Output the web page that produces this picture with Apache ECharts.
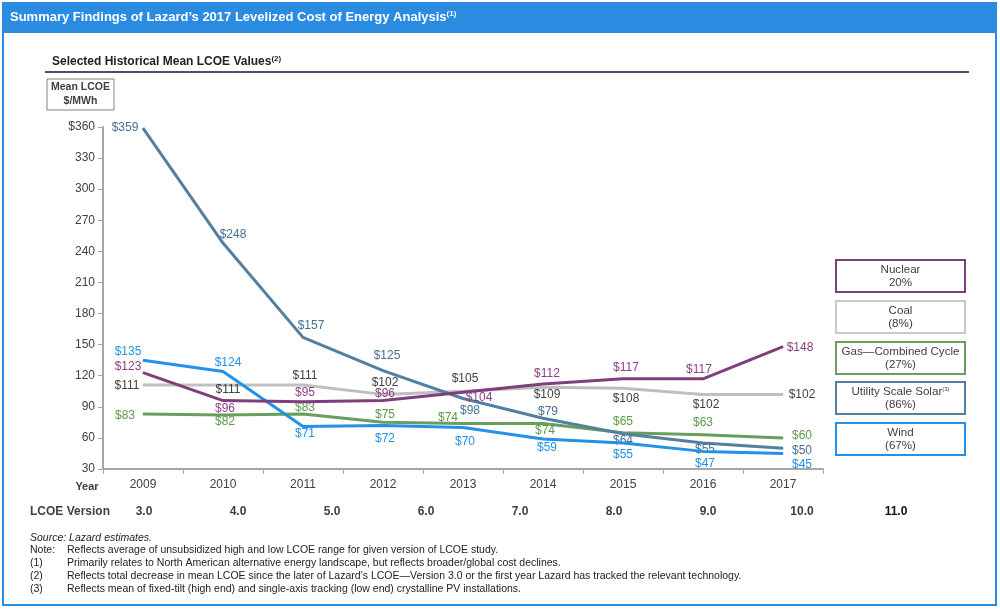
<!DOCTYPE html>
<html><head><meta charset="utf-8">
<script src="https://cdn.jsdelivr.net/npm/echarts@6/dist/echarts.min.js"></script>
<style>html,body{margin:0;padding:0;background:#fff}#c{width:1000px;height:609px}</style>
</head><body><div id="c"></div>
<script>
const years = ['2009','2010','2011','2012','2013','2014','2015','2016','2017'];
const versions = ['3.0','4.0','5.0','6.0','7.0','8.0','9.0','10.0','11.0'];
const yTicks = [30, 60, 90, 120, 150, 180, 210, 240, 270, 300, 330, 360];
const solar   = [359, 248, 157, 125, 98, 79, 64, 55, 50];
const wind    = [135, 124, 71, 72, 70, 59, 55, 47, 45];
const nuclear = [123, 96, 95, 96, 104, 112, 117, 117, 148];
const coal    = [111, 111, 111, 102, 105, 109, 108, 102, 102];
const gas     = [83, 82, 83, 75, 74, 74, 65, 63, 60];
const legendNames = ['Nuclear', 'Coal', 'Gas\u2014Combined Cycle', 'Utility Scale Solar', 'Wind'];
const legendChanges = ['20%', '(8%)', '(27%)', '(86%)', '(67%)'];

// label placement (styling, not data)
const solarOff   = [[-18,0],[10,-8],[8,-12],[4,-15],[7,12],[5,-7],[0,7],[2,7],[19,2]];
const windOff    = [[-15,-8],[5,-9],[2,7],[2,13],[2,14],[4,9],[0,12],[2,12],[19,11]];
const nuclearOff = [[-15,-6],[2,8],[2,-9],[2,-7],[16,5],[4,-10],[3,-11],[-4,-9],[17,1]];
const coalOff    = [[-16,1],[5,5],[2,-9],[2,-12],[2,-13],[4,8],[3,11],[3,10],[19,0]];
const gasOff     = [[-18,2],[2,7],[2,-6],[2,-8],[-15,-6],[2,7],[0,-11],[0,-12],[19,-2]];

const FONT = '"Liberation Sans", Arial, sans-serif';
const NARROW = '"Liberation Sans Narrow", "Liberation Sans", Arial, sans-serif';

function mk(name, vals, offs, lineColor, labelColor, z) {
  return {
    name, type: 'line', data: vals.map((v, i) => ({
      value: v,
      label: { offset: offs[i] }
    })),
    xAxisIndex: 0, yAxisIndex: 0, z: z,
    symbol: 'circle', symbolSize: 1, showSymbol: true,
    itemStyle: { color: lineColor },
    lineStyle: { color: lineColor, width: 3 },
    label: {
      show: true, position: 'inside', align: 'center', verticalAlign: 'middle',
      color: labelColor, fontSize: 12, fontFamily: FONT,
      formatter: p => '$' + p.value
    },
    animation: false
  };
}

const chart = echarts.init(document.getElementById('c'), null, { renderer: 'canvas' });

const boxTop = [260, 301, 342, 382, 423];
const boxColors = ['#7E3F7C', '#C8C8C8', '#6A9E5D', '#52809E', '#2490E8'];
const NOTE = { fontSize: 10.5, fill: '#222', fontFamily: FONT };
const graphics = [
  { type: 'rect', shape: { x: 3, y: 3, width: 993, height: 602 }, style: { fill: 'none', stroke: '#2A8BE0', lineWidth: 2 } },
  { type: 'rect', shape: { x: 3, y: 3, width: 993, height: 30 }, style: { fill: '#2A8BE0' } },
  { type: 'text', left: 10, top: 10, style: {
      text: '{a|Summary Findings of Lazard\u2019s 2017 Levelized Cost of Energy Analysis}{s|(1)}',
      rich: { a: { fontSize: 13, fontWeight: 'bold', fill: '#fff', fontFamily: FONT },
              s: { fontSize: 8, fontWeight: 'bold', fill: '#fff', fontFamily: FONT, padding: [0, 0, 6, 0] } } } },
  { type: 'text', left: 52, top: 55, style: {
      text: '{a|Selected Historical Mean LCOE Values}{s|(2)}',
      rich: { a: { fontSize: 12, fontWeight: 'bold', fill: '#222', fontFamily: FONT },
              s: { fontSize: 8, fontWeight: 'bold', fill: '#222', fontFamily: FONT, padding: [0, 0, 5, 0] } } } },
  { type: 'line', shape: { x1: 45, y1: 72, x2: 969, y2: 72 }, style: { stroke: '#4A5068', lineWidth: 2 } },
  { type: 'rect', shape: { x: 47, y: 79, width: 67, height: 31 }, style: { fill: '#fff', stroke: '#808080', lineWidth: 1 } },
  { type: 'text', x: 80.5, y: 94.5, style: { text: 'Mean LCOE\n$/MWh', align: 'center', verticalAlign: 'middle', fontSize: 10.5, fontWeight: 'bold', fill: '#404040', fontFamily: FONT, lineHeight: 14 } },
  { type: 'text', x: 87, y: 487, style: { text: 'Year', align: 'center', verticalAlign: 'middle', fontSize: 11, fontWeight: 'bold', fill: '#404040', fontFamily: NARROW } },
  { type: 'text', x: 30, y: 512, style: { text: 'LCOE Version', align: 'left', verticalAlign: 'middle', fontSize: 12, fontWeight: 'bold', fill: '#404040', fontFamily: FONT } },
  { type: 'text', left: 30, top: 533, style: Object.assign({ text: 'Source: Lazard estimates.', fontStyle: 'italic' }, NOTE) },
  { type: 'text', left: 30, top: 545, style: Object.assign({ text: 'Note:' }, NOTE) },
  { type: 'text', left: 67, top: 545, style: Object.assign({ text: 'Reflects average of unsubsidized high and low LCOE range for given version of LCOE study.' }, NOTE) },
  { type: 'text', left: 30, top: 558, style: Object.assign({ text: '(1)' }, NOTE) },
  { type: 'text', left: 67, top: 558, style: Object.assign({ text: 'Primarily relates to North American alternative energy landscape, but reflects broader/global cost declines.' }, NOTE) },
  { type: 'text', left: 30, top: 571, style: Object.assign({ text: '(2)' }, NOTE) },
  { type: 'text', left: 67, top: 571, style: Object.assign({ text: 'Reflects total decrease in mean LCOE since the later of Lazard\u2019s LCOE\u2014Version 3.0 or the first year Lazard has tracked the relevant technology.' }, NOTE) },
  { type: 'text', left: 30, top: 584, style: Object.assign({ text: '(3)' }, NOTE) },
  { type: 'text', left: 67, top: 584, style: Object.assign({ text: 'Reflects mean of fixed-tilt (high end) and single-axis tracking (low end) crystalline PV installations.' }, NOTE) }
];
legendNames.forEach((n, i) => {
  graphics.push({ type: 'rect', shape: { x: 836, y: boxTop[i], width: 129, height: 32 }, style: { fill: '#fff', stroke: boxColors[i], lineWidth: 2 } });
  const first = i === 3 ? '{t|' + n + '}{s|(3)}' : '{t|' + n + '}';
  graphics.push({ type: 'text', x: 900.5, y: boxTop[i] + 16, style: {
    text: first + '\n{t|' + legendChanges[i] + '}', align: 'center', verticalAlign: 'middle',
    rich: { t: { fontSize: 11.6, fill: '#404040', fontFamily: FONT, lineHeight: 13, align: 'center' },
            s: { fontSize: 6, fill: '#404040', fontFamily: FONT, padding: [0, 0, 5, 0] } } } });
});

chart.setOption({
  animation: false,
  backgroundColor: '#fff',
  grid: [
    { left: 103, right: 177, top: 127, bottom: 140, containLabel: false },
    { left: 97, width: 846, top: 470, height: 30 }
  ],
  xAxis: [
    { type: 'category', gridIndex: 0, data: years, boundaryGap: true,
      axisLine: { lineStyle: { color: '#A6A6A6', width: 2 } },
      axisTick: { show: true, alignWithLabel: false, length: 5, lineStyle: { color: '#A6A6A6', width: 1 } },
      axisLabel: { color: '#404040', fontSize: 12, fontFamily: NARROW, margin: 10 } },
    { type: 'category', gridIndex: 1, data: versions, boundaryGap: true,
      axisLine: { show: false }, axisTick: { show: false },
      axisLabel: { margin: 6, fontFamily: NARROW, fontSize: 12, fontWeight: 'bold', color: '#404040',
        formatter: v => v === '11.0' ? '{b|' + v + '}' : v,
        rich: { b: { fontFamily: FONT, fontSize: 12, fontWeight: 'bold', color: '#111' } } } }
  ],
  yAxis: [
    { type: 'value', gridIndex: 0, min: yTicks[0], max: yTicks[yTicks.length - 1], interval: 30,
      splitLine: { show: false },
      axisLine: { show: true, lineStyle: { color: '#A6A6A6', width: 2 } },
      axisTick: { show: true, length: 5, lineStyle: { color: '#A6A6A6' } },
      axisLabel: { color: '#404040', fontSize: 12, fontFamily: FONT, margin: 8,
        formatter: v => v === yTicks[yTicks.length - 1] ? '$' + v : String(v) } },
    { type: 'value', gridIndex: 1, show: false }
  ],
  series: [
    mk('Coal', coal, coalOff, '#BFBFBF', '#404040', 2),
    mk('Gas', gas, gasOff, '#6A9E5D', '#5B9A4A', 3),
    mk('Solar', solar, solarOff, '#52809E', '#46708F', 4),
    mk('Wind', wind, windOff, '#2490E8', '#2490E8', 5),
    mk('Nuclear', nuclear, nuclearOff, '#7E3F7C', '#8B3F86', 6)
  ],
  graphic: graphics
});
</script>
</body></html>
